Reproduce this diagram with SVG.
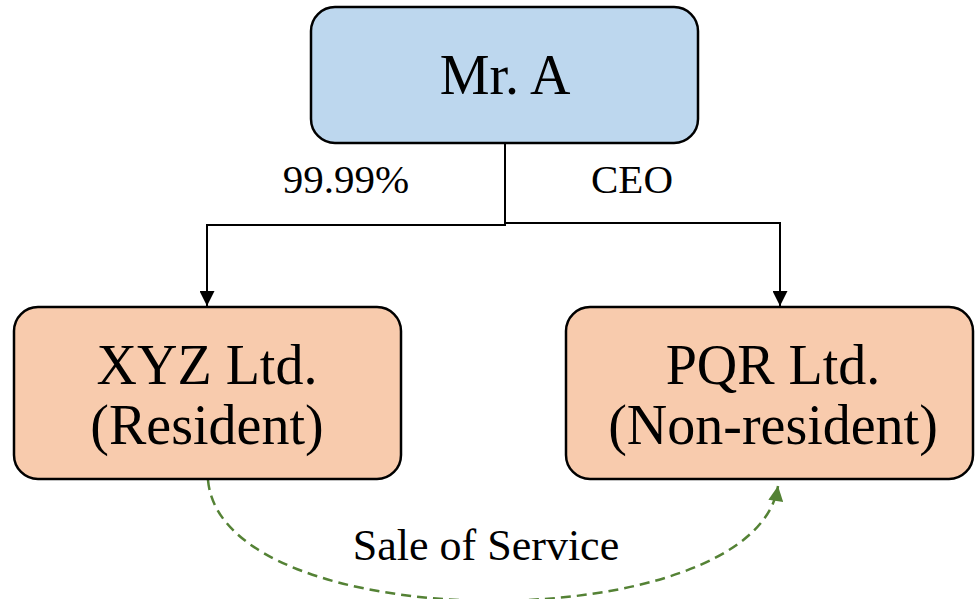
<svg xmlns="http://www.w3.org/2000/svg" width="975" height="599" viewBox="0 0 975 599">
<defs>
<style>
.box{stroke:#000;stroke-width:2.5}
.blue{fill:#BDD7EE}
.orange{fill:#F8CBAD}
text{font-family:"Liberation Serif","DejaVu Serif",serif;fill:#000;text-anchor:middle}
.big{font-size:56px}
.lbl{font-size:41px}
.sale{font-size:44px}
.conn{fill:none;stroke:#000;stroke-width:2}
.dash{fill:none;stroke:#548235;stroke-width:2.5;stroke-dasharray:10 6}
</style>
<marker id="ab" viewBox="0 0 10 10" refX="10" refY="5" markerWidth="8" markerHeight="7.5" markerUnits="strokeWidth" orient="auto"><path d="M0,0 L10,5 L0,10 z" fill="#000"/></marker>
<marker id="ag" viewBox="0 0 10 10" refX="10" refY="5" markerWidth="6.5" markerHeight="6" markerUnits="strokeWidth" orient="auto"><path d="M0,0 L10,5 L0,10 z" fill="#548235"/></marker>
</defs>
<g id="connectors">
<path class="conn" d="M505,143 V225 H207 V306" marker-end="url(#ab)"/>
<path class="conn" d="M505,223 H780 V306" marker-end="url(#ab)"/>
<path class="dash" d="M208,480 C222,640 755,640 778,486" marker-end="url(#ag)"/>
</g>
<g id="mrA">
<rect class="box blue" x="311" y="7" width="387" height="136" rx="24"/>
<text class="big" x="505" y="94">Mr. A</text>
</g>
<g id="xyz">
<rect class="box orange" x="14" y="307" width="387" height="172" rx="24"/>
<text class="big" x="207" y="384">XYZ Ltd.</text>
<text class="big" x="207" y="444">(Resident)</text>
</g>
<g id="pqr">
<rect class="box orange" x="566" y="307" width="407" height="172" rx="24"/>
<text class="big" x="773" y="384">PQR Ltd.</text>
<text class="big" x="773" y="444">(Non-resident)</text>
</g>
<g id="labels">
<text class="lbl" x="346" y="193">99.99%</text>
<text class="lbl" x="632" y="193">CEO</text>
<text class="sale" x="486" y="560">Sale of Service</text>
</g>
</svg>
